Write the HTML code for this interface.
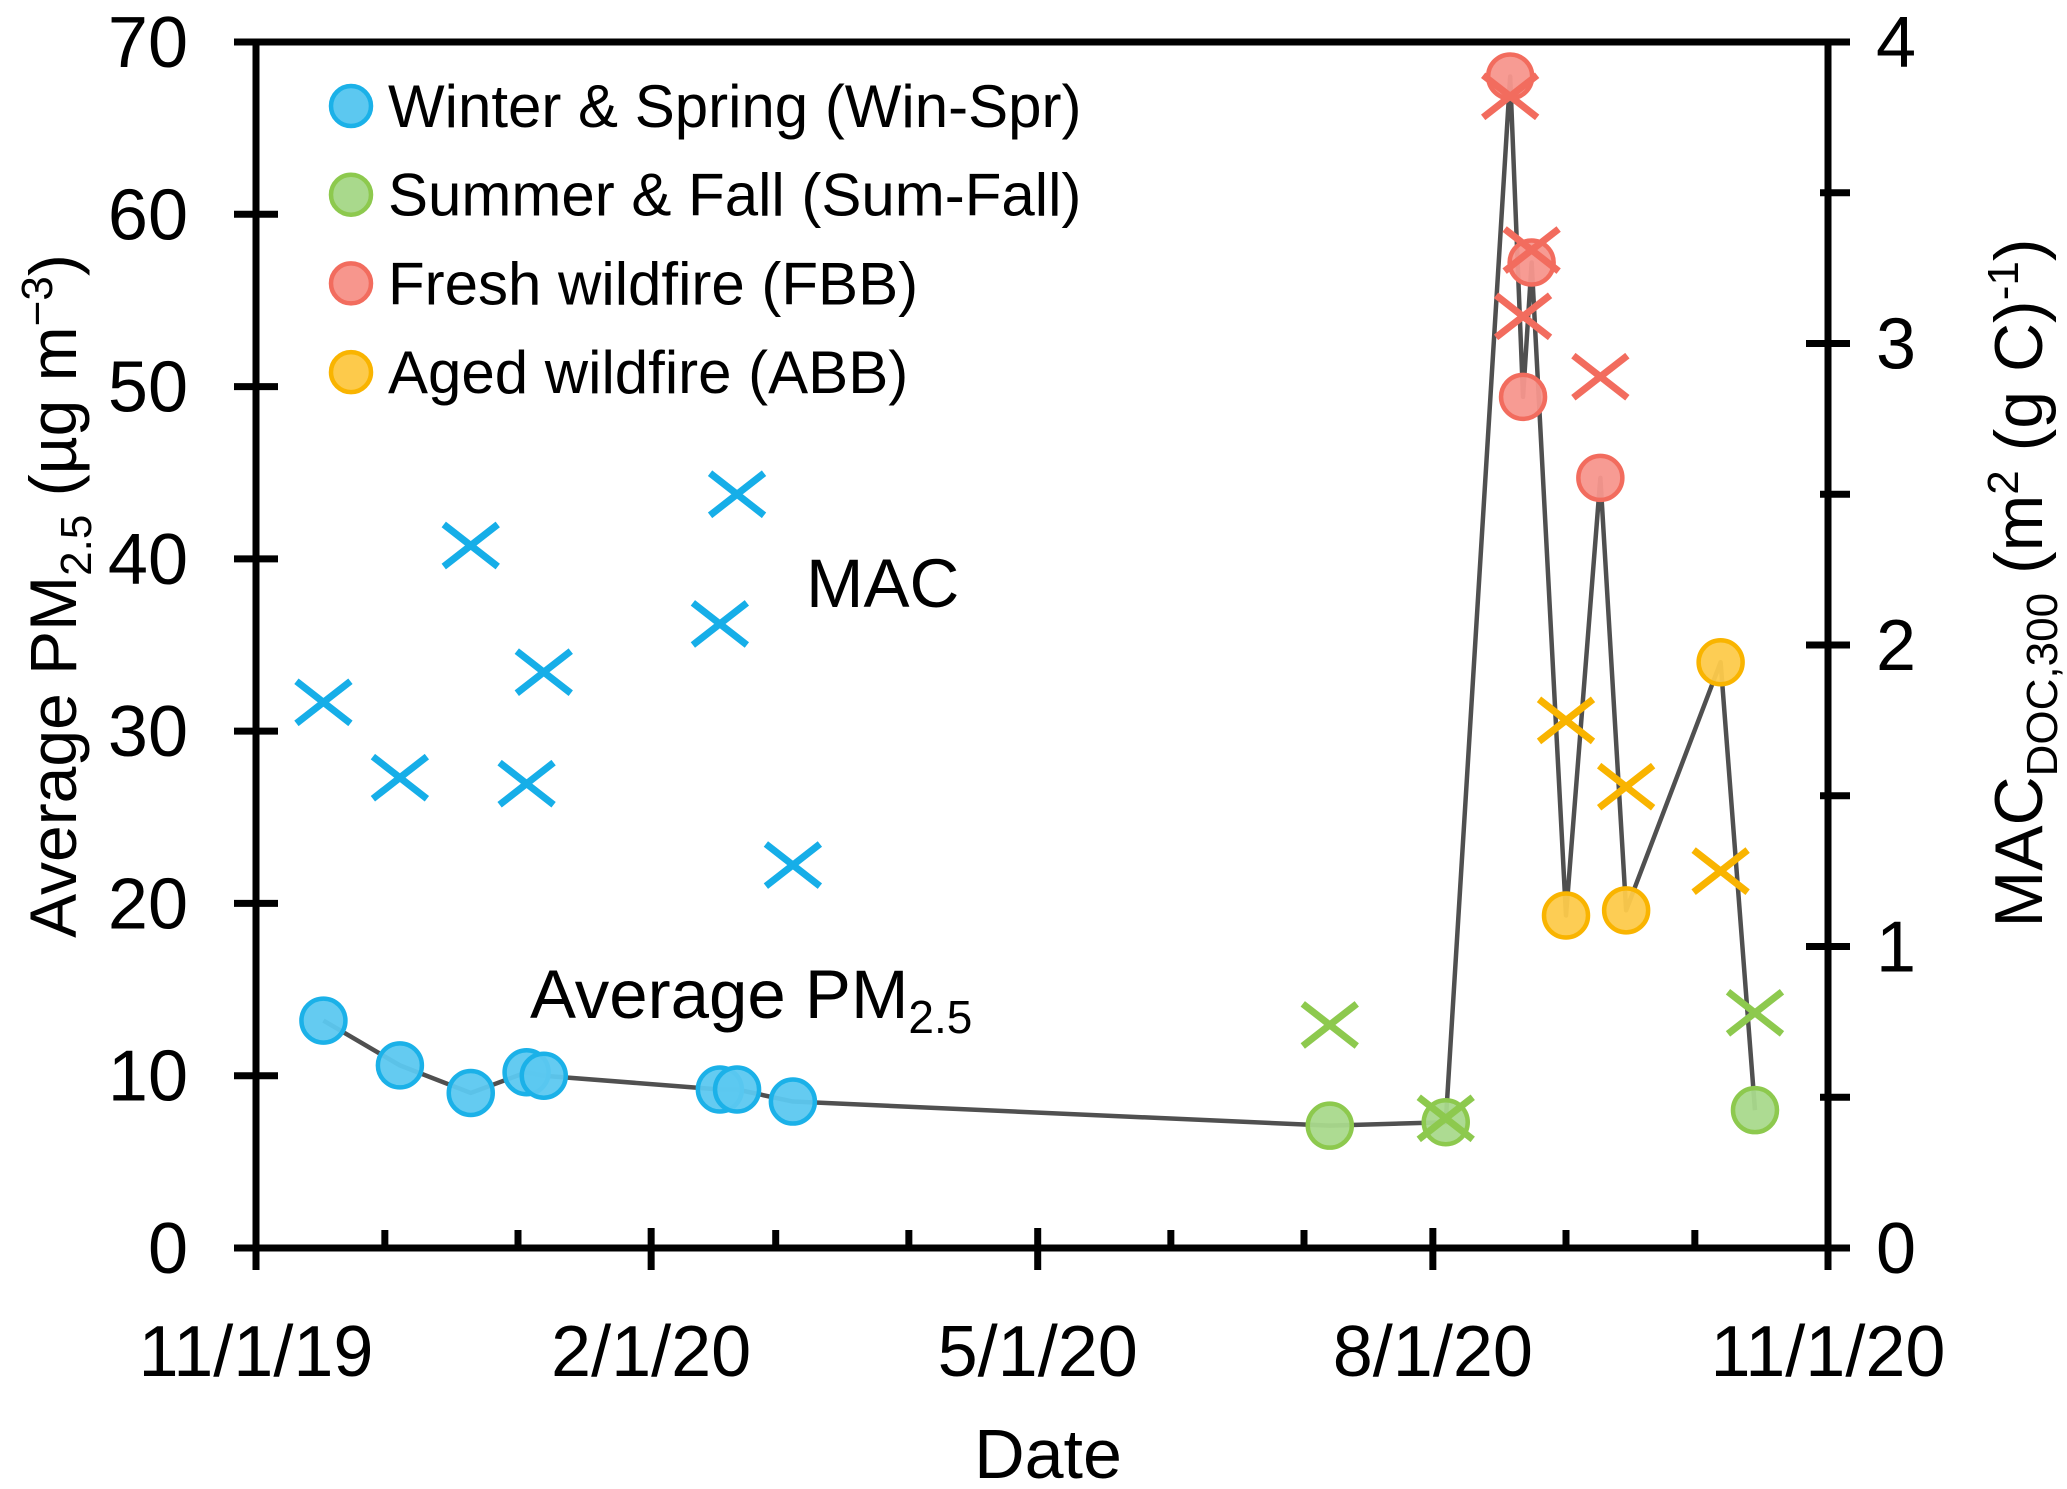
<!DOCTYPE html>
<html><head><meta charset="utf-8"><style>html,body{margin:0;padding:0;background:#fff}svg{display:block}text{font-family:"Liberation Sans",sans-serif;fill:#000}</style></head>
<body>
<svg id="chart" width="2067" height="1489" viewBox="0 0 2067 1489" xmlns="http://www.w3.org/2000/svg">
<g id="axes"></g>
<g id="series"></g>
<g id="legend"></g>
</svg>
<script>
// ---- data (days since 11/1/2019) ----
const pmDays = [15.7,33.5,50,63,67,108,112,125,250,277,292,295,297,305,313,319,341,349];
const pmVals = [13.2,10.6,9.0,10.2,10.0,9.2,9.2,8.5,7.1,7.3,68,49.4,57.2,19.3,44.7,19.6,34.0,8.0];
const pmCats = ['ws','ws','ws','ws','ws','ws','ws','ws','sf','sf','fbb','fbb','fbb','abb','fbb','abb','abb','sf'];
const macDays = [15.7,33.5,50,63,67,108,112,125,250,277,349,292,295,297,313,305,319,341];
const macVals = [1.81,1.56,2.33,1.54,1.91,2.07,2.50,1.27,0.74,0.43,0.78,3.82,3.09,3.31,2.89,1.75,1.53,1.25];
const macCats = ['ws','ws','ws','ws','ws','ws','ws','ws','sf','sf','sf','fbb','fbb','fbb','fbb','abb','abb','abb'];
const leftTicks = [0,10,20,30,40,50,60,70];
const rightTicks = [0,1,2,3,4];
const xTickLabels = ['11/1/19','2/1/20','5/1/20','8/1/20','11/1/20'];
const xTickDays = [0,92,182,274,366];
const minorDays = [30,61,121,152,213,244,305,335];
const legendLabels = ['Winter & Spring (Win-Spr)','Summer & Fall (Sum-Fall)','Fresh wildfire (FBB)','Aged wildfire (ABB)'];
const legendCats = ['ws','sf','fbb','abb'];

const L=256,R=1828,T=42,B=1248;
const X=d=>L+(R-L)*d/366;
const YL=v=>B-(B-T)*v/70;
const YR=v=>B-(B-T)*v/4;
const fillC={ws:'#5cc8f0',sf:'#a9d98c',fbb:'#f7968d',abb:'#fdca4b'};
const strokeC={ws:'#1bb1e8',sf:'#8dc94e',fbb:'#f26c5e',abb:'#f9b400'};
const crossC={ws:'#16aee8',sf:'#8dc94e',fbb:'#f26c5e',abb:'#f9b400'};
const NS='http://www.w3.org/2000/svg';
function mk(tag,attrs,parent,txt){const e=document.createElementNS(NS,tag);for(const k in attrs)e.setAttribute(k,attrs[k]);if(txt!==undefined)e.textContent=txt;parent.appendChild(e);return e;}
const ax=document.getElementById('axes'),se=document.getElementById('series'),lg=document.getElementById('legend');

let e;
e=mk('line',{x1:L,y1:T,x2:R,y2:T,stroke:'#000','stroke-width':7},ax);


e=mk('line',{x1:L,y1:T-3,x2:L,y2:B+3,stroke:'#000','stroke-width':7},ax);


e=mk('line',{x1:R,y1:T-3,x2:R,y2:B+3,stroke:'#000','stroke-width':7},ax);


e=mk('line',{x1:L,y1:B,x2:R,y2:B,stroke:'#000','stroke-width':7},ax);



leftTicks.forEach(v=>{
  const y=YL(v);
  e=mk('line',{x1:L-22,y1:y,x2:L+22,y2:y,stroke:'#000','stroke-width':7},ax);
  
  
  e=mk('text',{x:L-68,y:y+25,'font-size':72,'text-anchor':'end'},ax,String(v));
  
  
});
for(let i=0;i<8;i++){
  const v=i*0.5,y=YR(v);
  e=mk('line',{x1:R-(i%2?8:22),y1:y,x2:R+22,y2:y,stroke:'#000','stroke-width':7},ax);
  
  
}
e=mk('line',{x1:R-22,y1:YR(4),x2:R+22,y2:YR(4),stroke:'#000','stroke-width':7},ax);
rightTicks.forEach(v=>{
  e=mk('text',{x:R+48,y:YR(v)+25,'font-size':72},ax,String(v));
  
  
});
xTickDays.forEach((d,i)=>{
  const x=X(d);
  e=mk('line',{x1:x,y1:B-20,x2:x,y2:B+22,stroke:'#000','stroke-width':7},ax);
  
  
  e=mk('text',{x:x,y:1376,'font-size':72,'text-anchor':'middle'},ax,xTickLabels[i]);
  
  
});
minorDays.forEach(d=>{
  e=mk('line',{x1:X(d),y1:B-18,x2:X(d),y2:B,stroke:'#000','stroke-width':7},ax);
  
  
});
e=mk('text',{x:1048,y:1478,'font-size':70,'text-anchor':'middle'},ax,'Date');



e=mk('text',{transform:'translate(76,596) rotate(-90)','font-size':66,'text-anchor':'middle'},ax);


e.innerHTML='Average PM<tspan font-size="44" dy="15">2.5</tspan><tspan dy="-15"> (µg m</tspan><tspan font-size="44" dy="-24">−3</tspan><tspan dy="24">)</tspan>';
e=mk('text',{transform:'translate(2042,583) rotate(-90)','font-size':68,'text-anchor':'middle'},ax);


e.innerHTML='MAC<tspan font-size="44" dy="15">DOC,300</tspan><tspan dy="-15"> (m</tspan><tspan font-size="44" dy="-24">2</tspan><tspan dy="24"> (g C)</tspan><tspan font-size="44" dy="-24">-1</tspan><tspan dy="24">)</tspan>';

e=mk('text',{x:806,y:607,'font-size':69},ax,'MAC');


e=mk('text',{x:530,y:1018,'font-size':69},ax);


e.innerHTML='Average PM<tspan font-size="46" dy="15">2.5</tspan>';

const pts=pmDays.map((d,i)=>X(d)+','+YL(pmVals[i])).join(' ');
e=mk('polyline',{points:pts,fill:'none',stroke:'#505050','stroke-width':4.5,'stroke-linejoin':'round'},se);


pmDays.forEach((d,i)=>{
  const c=pmCats[i];
  e=mk('circle',{cx:X(d),cy:YL(pmVals[i]),r:22,fill:fillC[c],stroke:strokeC[c],'stroke-width':4.5,'fill-opacity':0.95},se);
  
  
});
macDays.forEach((d,i)=>{
  const c=macCats[i],x=X(d),y=YR(macVals[i]),s=27;
  e=mk('path',{d:`M${x-s},${y-s*0.78}L${x+s},${y+s*0.78}M${x-s},${y+s*0.78}L${x+s},${y-s*0.78}`,stroke:crossC[c],'stroke-width':7,fill:'none'},se);
  
  
});

legendLabels.forEach((t,i)=>{
  const y=106+i*88.7;
  e=mk('circle',{cx:351,cy:y,r:20,fill:fillC[legendCats[i]],stroke:strokeC[legendCats[i]],'stroke-width':4.5},lg);
  
  
  e=mk('text',{x:388,y:y+21,'font-size':60},lg,t);
  
  
});
</script>
</body></html>
